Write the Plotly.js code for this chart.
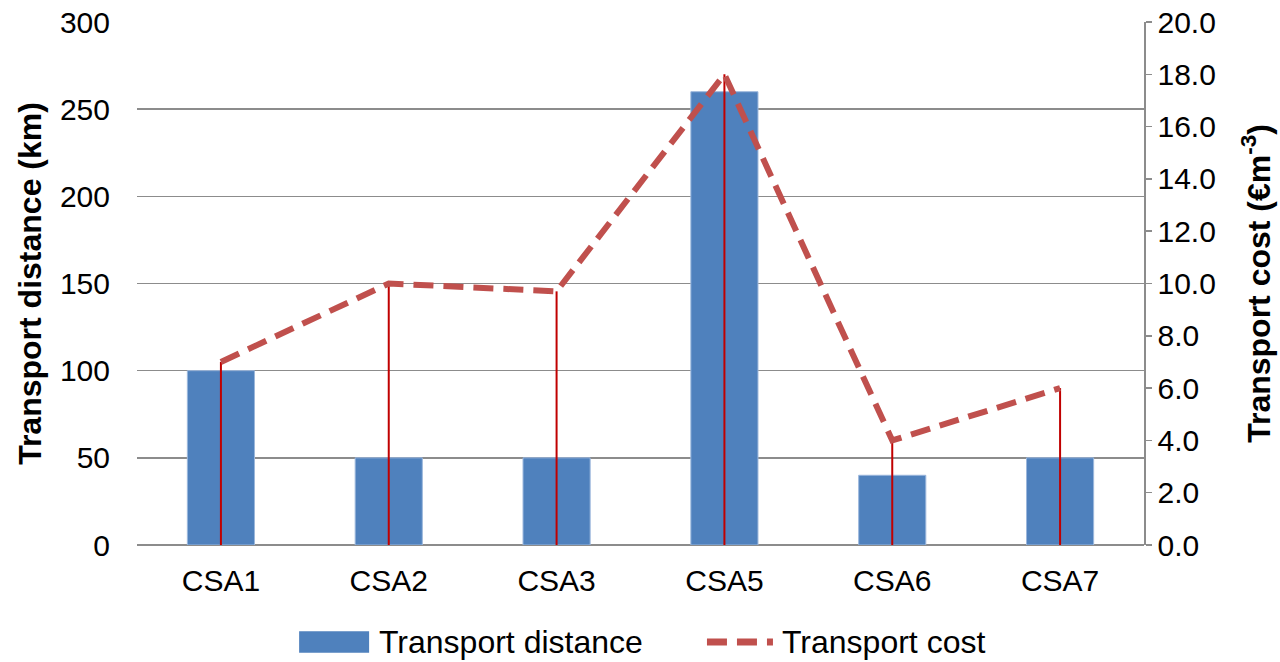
<!DOCTYPE html>
<html>
<head>
<meta charset="utf-8">
<script src="https://cdn.plot.ly/plotly-3.0.1.min.js"></script>
<style>
  html, body { margin: 0; padding: 0; background: #ffffff; }
  #chart { width: 1280px; height: 662px; }
</style>
</head>
<body>
<div id="chart"></div>
<script>
// Sites compared
const sites = ['CSA1', 'CSA2', 'CSA3', 'CSA5', 'CSA6', 'CSA7'];
// Transport distance per site (km)
const distanceKm = [100, 50, 50, 260, 40, 50];
// Transport cost per site (€ m^-3)
const costPerM3 = [7.0, 10.0, 9.7, 18.0, 4.0, 6.0];
// Legend labels
const legendLabels = ['Transport distance', 'Transport cost'];
const zeros = costPerM3.map(() => 0);

const FONT = 'Liberation Sans, Arial, sans-serif';
const GRID = '#8c8c8c';
const BAR_COLOR = '#4f81bd';
const LINE_COLOR = '#c0504d';
const COST_DASH = '20px,10px';

const traces = [
  {
    type: 'bar',
    name: legendLabels[0],
    x: sites,
    y: distanceKm,
    width: 0.4,
    marker: { color: BAR_COLOR, line: { color: '#9bb7dc', width: 1 } },
    hoverinfo: 'x+y'
  },
  {
    // drop lines from the axis up to each cost point
    type: 'scatter',
    mode: 'markers',
    x: sites,
    y: costPerM3,
    yaxis: 'y2',
    showlegend: false,
    hoverinfo: 'skip',
    marker: { opacity: 0, size: 1 },
    error_y: {
      type: 'data',
      symmetric: false,
      array: zeros,
      arrayminus: costPerM3,
      color: '#c00000',
      thickness: 2,
      width: 0
    }
  },
  {
    type: 'scatter',
    mode: 'lines',
    name: legendLabels[1],
    x: sites,
    y: costPerM3,
    yaxis: 'y2',
    line: { color: LINE_COLOR, width: 6, dash: COST_DASH }
  }
];

// Legend row below the plot, drawn with paper-referenced shapes and text
const legendY = -0.1855;
const shapes = [
  {
    type: 'rect', xref: 'paper', yref: 'paper',
    x0: 0.161, x1: 0.2305, y0: -0.165, y1: -0.206,
    fillcolor: BAR_COLOR, line: { width: 0 }
  },
  {
    type: 'line', xref: 'paper', yref: 'paper',
    x0: 0.566, x1: 0.632, y0: legendY, y1: legendY,
    line: { color: LINE_COLOR, width: 7, dash: '20px,10px,20px,10px,6px,100px' }
  }
];
const annotations = [
  {
    xref: 'paper', yref: 'paper', x: 0.2385, y: legendY,
    xanchor: 'left', yanchor: 'middle', showarrow: false,
    text: legendLabels[0],
    font: { family: FONT, size: 32, color: '#000000' }
  },
  {
    xref: 'paper', yref: 'paper', x: 0.6385, y: legendY,
    xanchor: 'left', yanchor: 'middle', showarrow: false,
    text: legendLabels[1],
    font: { family: FONT, size: 32, color: '#000000' }
  }
];

const layout = {
  width: 1280,
  height: 662,
  margin: { l: 137, r: 136, t: 22, b: 117, autoexpand: false },
  paper_bgcolor: '#ffffff',
  plot_bgcolor: '#ffffff',
  font: { family: FONT, size: 30, color: '#000000' },
  showlegend: false,
  shapes: shapes,
  annotations: annotations,
  xaxis: {
    type: 'category',
    showgrid: false,
    showline: false,
    zeroline: false,
    ticks: 'outside',
    ticklen: 9,
    tickcolor: 'rgba(0,0,0,0)',
    tickfont: { family: FONT, size: 30, color: '#000000' }
  },
  yaxis: {
    range: [0, 300],
    dtick: 50,
    showline: false,
    showgrid: true,
    gridcolor: GRID,
    gridwidth: 1.5,
    zeroline: true,
    zerolinecolor: GRID,
    zerolinewidth: 1.5,
    ticks: 'outside',
    ticklen: 20,
    tickcolor: 'rgba(0,0,0,0)',
    tickfont: { family: FONT, size: 30, color: '#000000' },
    title: {
      text: 'Transport distance (km)',
      font: { family: FONT, size: 32, color: '#000000', weight: 'bold' },
      standoff: 8
    }
  },
  yaxis2: {
    overlaying: 'y',
    side: 'right',
    range: [0, 20],
    dtick: 2,
    tickformat: '.1f',
    showgrid: false,
    zeroline: false,
    showline: true,
    linecolor: GRID,
    linewidth: 1.5,
    ticks: 'outside',
    ticklen: 6,
    tickcolor: GRID,
    tickwidth: 1.5,
    tickfont: { family: FONT, size: 30, color: '#000000' },
    title: {
      text: 'Transport cost (€m<sup>-3</sup>)',
      font: { family: FONT, size: 32, color: '#000000', weight: 'bold' },
      standoff: 32
    }
  }
};

Plotly.newPlot('chart', traces, layout, { displayModeBar: false, staticPlot: true });
</script>
</body>
</html>
